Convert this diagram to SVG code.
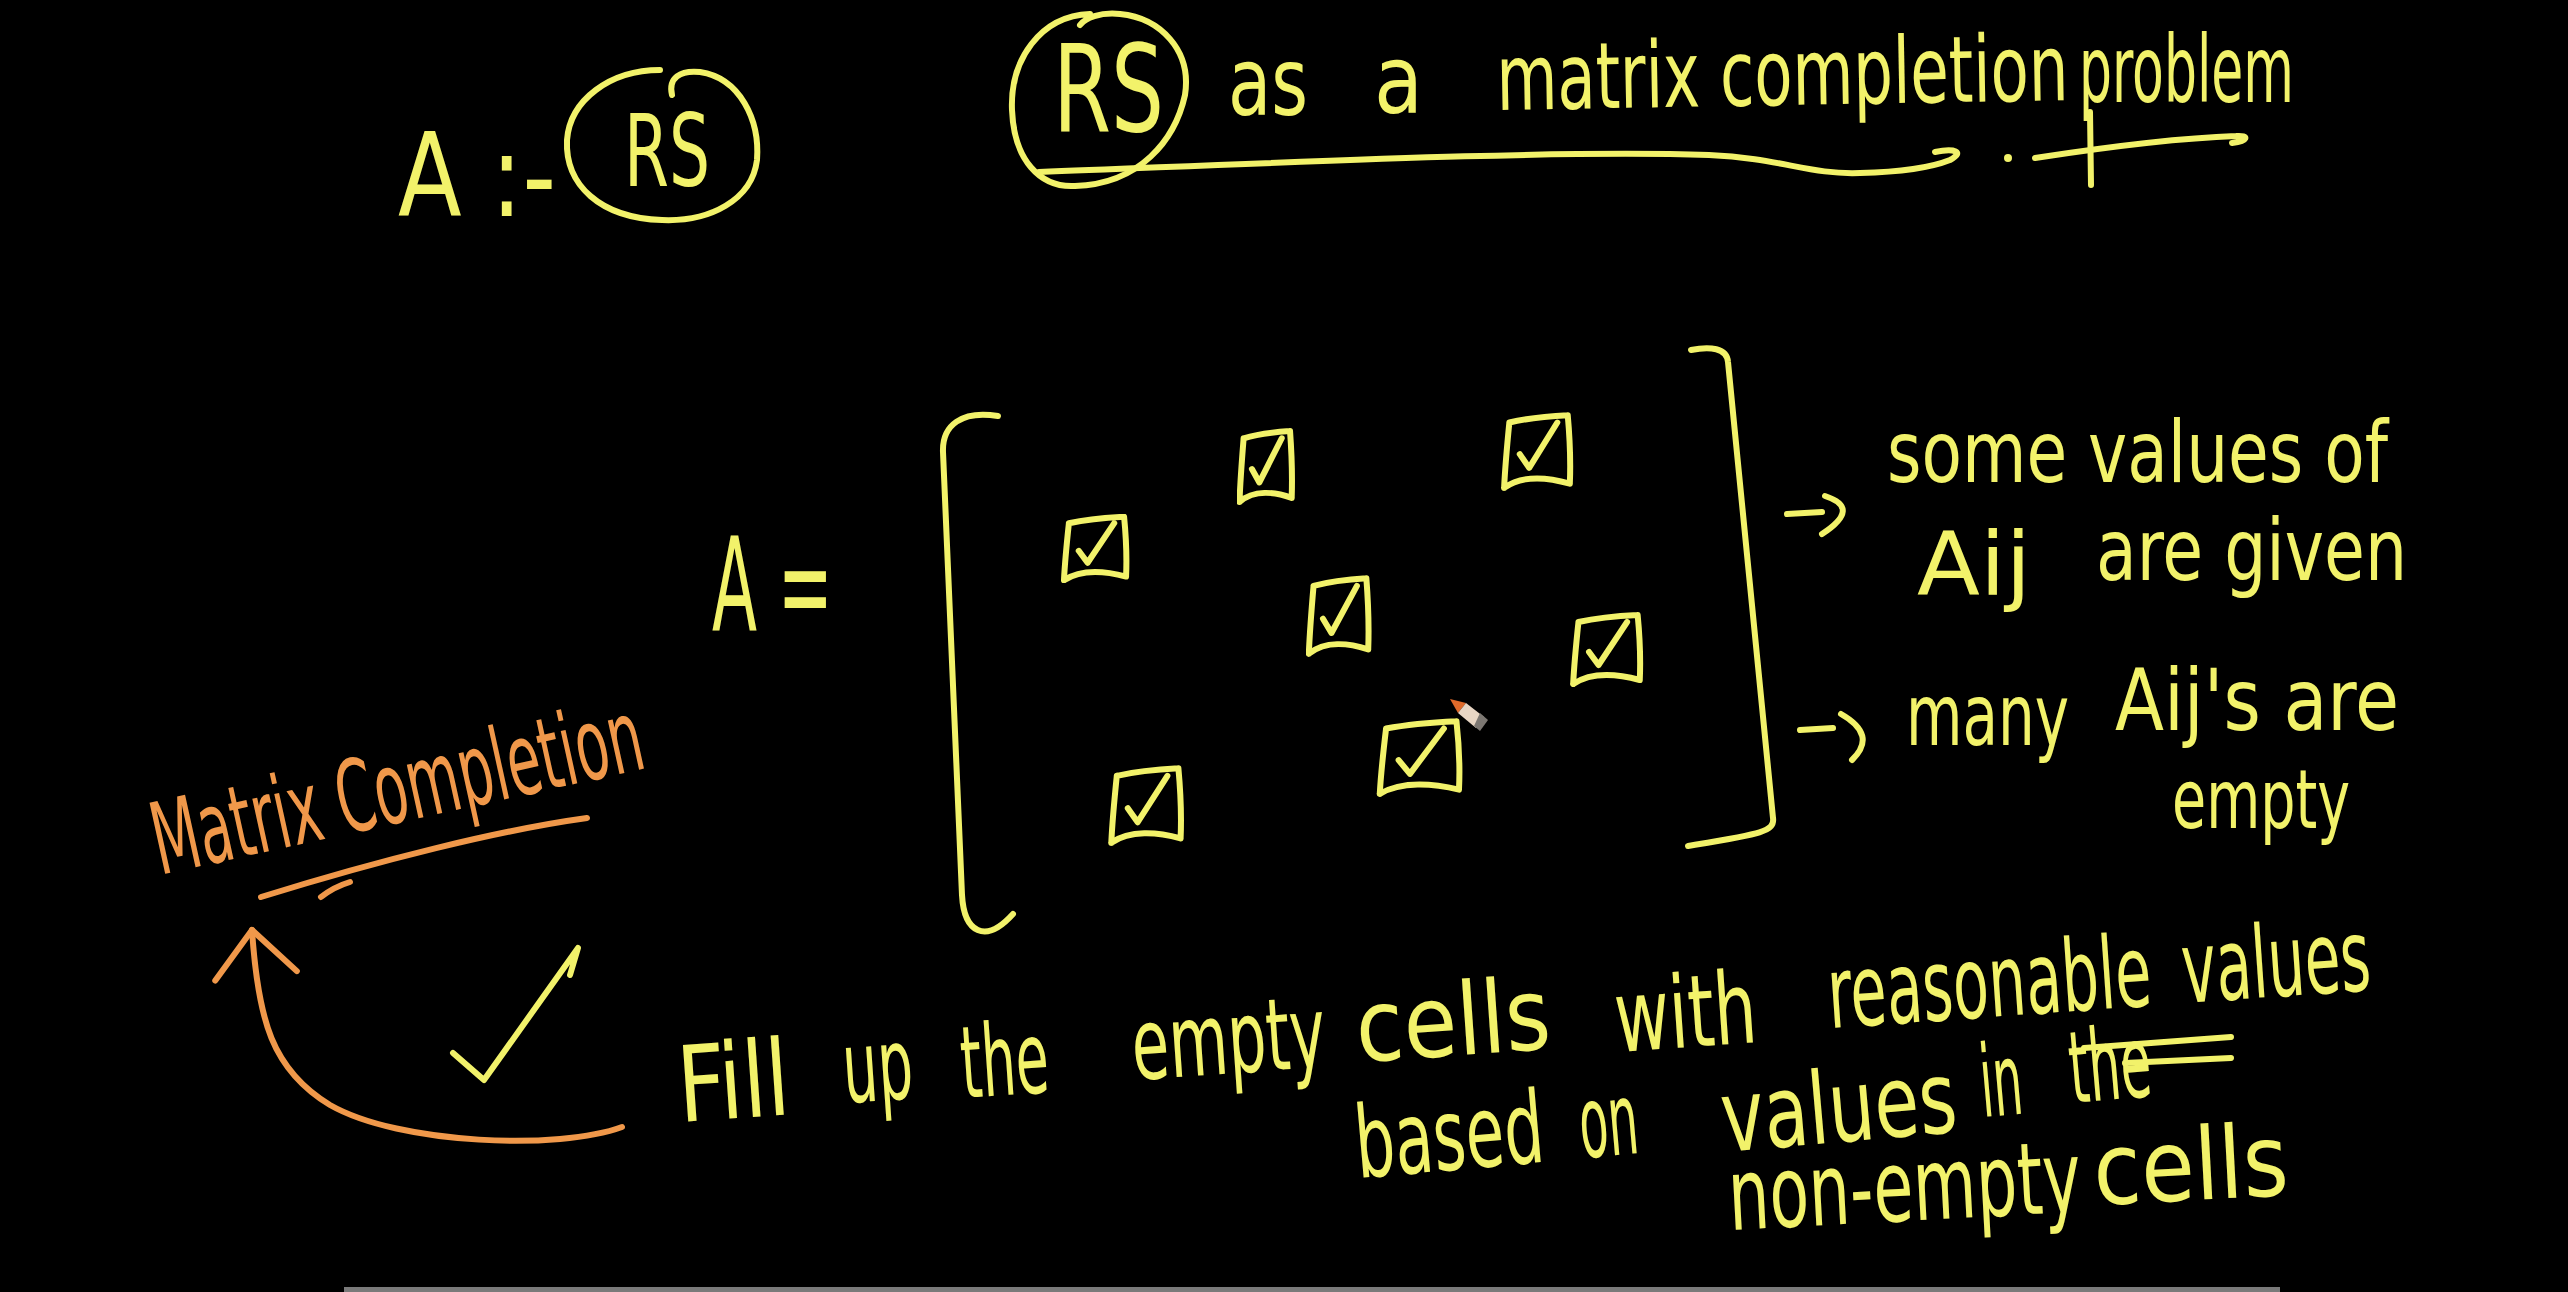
<svg xmlns="http://www.w3.org/2000/svg" xmlns:xlink="http://www.w3.org/1999/xlink" width="2568" height="1292" viewBox="0 0 2568 1292">
<style>
.ink{fill:none;stroke:#f2f26a;stroke-width:6;stroke-linecap:round;stroke-linejoin:round;vector-effect:non-scaling-stroke}
.inko{fill:none;stroke:#f0984a;stroke-width:6;stroke-linecap:round;stroke-linejoin:round}
.hw{font-family:"Liberation Sans Narrow","DejaVu Sans Condensed","Liberation Sans",sans-serif;fill:#f2f26a}
.hwo{fill:#f0984a}
</style>
<defs>
<symbol id="cellbox" viewBox="0 0 70 75" preserveAspectRatio="none">
<path class="ink" d="M8,10 C25,6 45,4 64,3 M8,10 C6,30 4,50 3,72 M3,72 C20,60 45,62 66,68 M64,3 C66,25 67,45 66,68 M18,40 L27,53 L54,10"/>
</symbol>
<marker id="vhead" markerUnits="userSpaceOnUse" markerWidth="120" markerHeight="120" refX="0" refY="0" viewBox="-60 -60 120 120" orient="auto" overflow="visible">
<path d="M-48,-40 L0,0 L-44,42" fill="none" stroke="#f0984a" stroke-width="6" stroke-linecap="round" stroke-linejoin="round"/>
</marker>
</defs>
<rect x="0" y="0" width="2568" height="1292" fill="#000"/>

<g id="aim">
<text class="hw" x="398" y="216" font-size="115" textLength="158" lengthAdjust="spacingAndGlyphs">A :-</text>
<path class="ink" d="M672,95 C668,78 680,70 700,72 C740,78 760,120 757,160 C752,200 710,222 662,220 C600,218 565,185 567,140 C570,100 610,70 660,70"/>
<text class="hw" x="624" y="186" font-size="100" textLength="86" lengthAdjust="spacingAndGlyphs">RS</text>
</g>

<g id="title">
<path class="ink" d="M1090,14 C1040,16 1010,60 1012,110 C1014,160 1040,188 1075,186 C1140,184 1175,140 1185,95 C1192,50 1160,18 1120,14 C1100,12 1085,18 1080,25"/>
<text class="hw" x="1053" y="131" font-size="122" textLength="111" lengthAdjust="spacingAndGlyphs">RS</text>
<text class="hw" x="1228" y="115" font-size="95" textLength="80" lengthAdjust="spacingAndGlyphs">as</text>
<text class="hw" x="1374" y="113" font-size="95" textLength="49" lengthAdjust="spacingAndGlyphs">a</text>
<text class="hw" x="1497" y="110" font-size="92" textLength="572" lengthAdjust="spacingAndGlyphs" transform="rotate(-1 1497 110)">matrix completion</text>
<text class="hw" x="2079" y="102" font-size="92" textLength="215" lengthAdjust="spacingAndGlyphs">problem</text>
<path class="ink" d="M2090,112 L2091,185"/>
</g>

<g id="matrix">
<text class="hw" x="712" y="630" font-size="130" textLength="121" lengthAdjust="spacingAndGlyphs">A =</text>
<path class="ink" d="M998,416 C962,410 942,425 943,452 L962,895 C964,932 985,945 1013,914"/>
<path class="ink" d="M1691,350 C1710,346 1727,348 1728,362 L1773,818 C1775,832 1760,834 1688,846"/>
<g id="cell-1"><use xlink:href="#cellbox" href="#cellbox" x="1061" y="514" width="69" height="69"/></g>
<g id="cell-2"><use xlink:href="#cellbox" href="#cellbox" x="1237" y="428" width="58" height="77"/></g>
<g id="cell-3"><use xlink:href="#cellbox" href="#cellbox" x="1501" y="412" width="73" height="79"/></g>
<g id="cell-4"><use xlink:href="#cellbox" href="#cellbox" x="1306" y="575" width="66" height="82"/></g>
<g id="cell-5"><use xlink:href="#cellbox" href="#cellbox" x="1570" y="612" width="74" height="75"/></g>
<g id="cell-6"><use xlink:href="#cellbox" href="#cellbox" x="1376" y="718" width="88" height="79"/></g>
<g id="cell-7"><use xlink:href="#cellbox" href="#cellbox" x="1108" y="765" width="77" height="81"/></g>
<g id="pencil">
<polygon points="1450,699 1466,703 1458,713" fill="#e06a2a"/>
<polygon points="1466,703 1484,717 1476,728 1458,713" fill="#e8d6c4"/>
<polygon points="1480,713 1488,720 1480,731 1474,726" fill="#7d7873"/>
</g>
</g>

<g id="note-given">
<text class="hw" x="1887" y="482" font-size="85" textLength="501" lengthAdjust="spacingAndGlyphs">some values of</text>
<text class="hw" x="1917" y="594" font-size="88" textLength="114" lengthAdjust="spacingAndGlyphs">Aij</text>
<text class="hw" x="2096" y="580" font-size="85" textLength="311" lengthAdjust="spacingAndGlyphs">are given</text>
</g>

<g id="note-empty">
<text class="hw" x="1906" y="745" font-size="85" textLength="163" lengthAdjust="spacingAndGlyphs">many</text>
<text class="hw" x="2115" y="730" font-size="85" textLength="284" lengthAdjust="spacingAndGlyphs">Aij's are</text>
<text class="hw" x="2172" y="828" font-size="82" textLength="178" lengthAdjust="spacingAndGlyphs">empty</text>
</g>

<g id="matrix-completion">
<text class="hw hwo" x="160" y="875" font-size="100" textLength="500" lengthAdjust="spacingAndGlyphs" transform="rotate(-12.4 160 875)">Matrix Completion</text>
<path class="inko" d="M261,897 C380,860 500,830 587,818 M321,897 C330,890 340,885 350,882"/>
</g>

<g id="check">
<path class="ink" d="M453,1053 L484,1080 L578,948 L570,975"/>
</g>

<g id="fill-text">
<text class="hw" x="680" y="1122" font-size="105" textLength="112" lengthAdjust="spacingAndGlyphs" transform="rotate(-4 680 1122)">Fill</text>
<text class="hw" x="845" y="1103" font-size="100" textLength="70" lengthAdjust="spacingAndGlyphs" transform="rotate(-4 845 1103)">up</text>
<text class="hw" x="963" y="1098" font-size="100" textLength="88" lengthAdjust="spacingAndGlyphs" transform="rotate(-4 963 1098)">the</text>
<text class="hw" x="1134" y="1080" font-size="100" textLength="194" lengthAdjust="spacingAndGlyphs" transform="rotate(-4 1134 1080)">empty</text>
<text class="hw" x="1358" y="1062" font-size="100" textLength="195" lengthAdjust="spacingAndGlyphs" transform="rotate(-4 1358 1062)">cells</text>
<text class="hw" x="1617" y="1052" font-size="100" textLength="142" lengthAdjust="spacingAndGlyphs" transform="rotate(-4 1617 1052)">with</text>
<text class="hw" x="1830" y="1028" font-size="100" textLength="324" lengthAdjust="spacingAndGlyphs" transform="rotate(-4 1830 1028)">reasonable</text>
<text class="hw" x="2184" y="1003" font-size="100" textLength="189" lengthAdjust="spacingAndGlyphs" transform="rotate(-4 2184 1003)">values</text>

<text class="hw" x="1358" y="1178" font-size="100" textLength="189" lengthAdjust="spacingAndGlyphs" transform="rotate(-5 1358 1178)">based</text>
<text class="hw" x="1582" y="1158" font-size="100" textLength="59" lengthAdjust="spacingAndGlyphs" transform="rotate(-5 1582 1158)">on</text>
<text class="hw" x="1724" y="1152" font-size="100" textLength="236" lengthAdjust="spacingAndGlyphs" transform="rotate(-5 1724 1152)">values</text>
<text class="hw" x="1983" y="1117" font-size="100" textLength="42" lengthAdjust="spacingAndGlyphs" transform="rotate(-5 1983 1117)">in</text>
<text class="hw" x="2072" y="1103" font-size="100" textLength="82" lengthAdjust="spacingAndGlyphs" transform="rotate(-5 2072 1103)">the</text>
<path class="ink" d="M2084,1048 L2231,1037 M2125,1063 L2231,1058"/>

<text class="hw" x="1730" y="1230" font-size="100" textLength="353" lengthAdjust="spacingAndGlyphs" transform="rotate(-3 1730 1230)">non-empty</text>
<text class="hw" x="2095" y="1205" font-size="100" textLength="195" lengthAdjust="spacingAndGlyphs" transform="rotate(-3 2095 1205)">cells</text>
</g>

<g id="connectors">
<path class="ink" d="M1039,172 C1300,162 1550,150 1709,155 C1780,158 1810,175 1860,173 C1900,172 1930,168 1950,160 C1965,152 1955,148 1935,152"/>
<circle cx="2008" cy="158" r="4" fill="#f2f26a"/>
<path class="ink" d="M2035,158 C2100,148 2180,138 2236,136 C2250,135 2248,141 2232,143"/>
<path class="ink" d="M1787,514 L1822,512 M1825,496 Q1862,508 1822,534"/>
<path class="ink" d="M1800,730 L1833,728 M1841,714 Q1878,735 1852,760"/>
<path class="inko" d="M622,1127 C560,1150 400,1145 330,1105 C272,1070 258,1020 252,930" marker-end="url(#vhead)"/>
</g>

<rect x="344" y="1287" width="1936" height="5" fill="#7a7a7a"/>
</svg>
